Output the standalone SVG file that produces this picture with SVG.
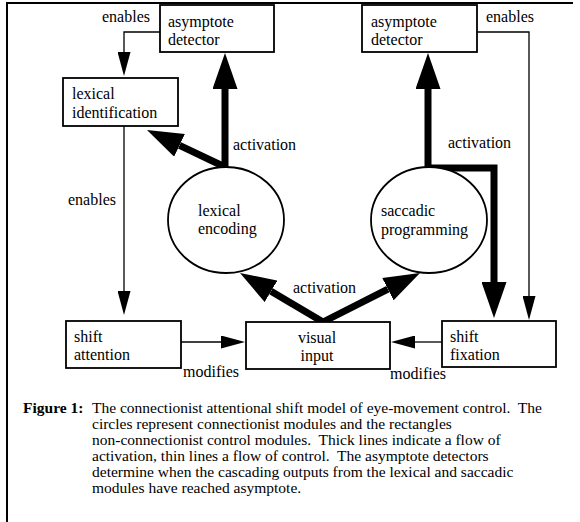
<svg xmlns="http://www.w3.org/2000/svg" width="580" height="522" viewBox="0 0 580 522" font-family="'Liberation Serif', 'Times New Roman', 'DejaVu Serif', serif">
<style>
text{font-family:'Liberation Serif','Times New Roman','DejaVu Serif',serif;font-size:16px;fill:#000}
.cap{font-size:15.5px;white-space:pre}
.b{font-weight:bold}
.box{fill:#fff;stroke:#000;stroke-width:1.8}
.thin{fill:none;stroke:#000;stroke-width:1.3}
.thick{fill:none;stroke:#000;stroke-width:7;stroke-linejoin:miter}
</style>
<defs>
<marker id="ah" markerUnits="userSpaceOnUse" viewBox="0 0 36 25" markerWidth="36" markerHeight="25" refX="0" refY="12.5" orient="auto">
<path d="M0,0 L36,12.5 L0,25 z" fill="#000"/>
</marker>
<marker id="at" markerUnits="userSpaceOnUse" viewBox="0 0 24 13" markerWidth="24" markerHeight="13" refX="0" refY="6.5" orient="auto">
<path d="M0,0 L24,6.5 L0,13 z" fill="#000"/>
</marker>
</defs>
<rect width="580" height="522" fill="#fff"/>
<path d="M7,522 V3 H573" fill="none" stroke="#000" stroke-width="2"/>

<g id="connectors">
<path class="thin" d="M274,32 H124 V52" marker-end="url(#at)"/>
<path class="thin" d="M477,32 H529 V296" marker-end="url(#at)"/>
<path class="thin" d="M124,126 V291" marker-end="url(#at)"/>
<path class="thin" d="M181,342 H221" marker-end="url(#at)"/>
<path class="thin" d="M442,342 H415" marker-end="url(#at)"/>
<path class="thick" d="M225,170 V89" marker-end="url(#ah)"/>
<path class="thick" d="M225,167 L179.5,145.4" marker-end="url(#ah)"/>
<path class="thick" d="M428,170 V89" marker-end="url(#ah)"/>
<path class="thick" d="M428,168 H494 V282" marker-end="url(#ah)"/>
<path class="thick" d="M323,322 L271,291.3" marker-end="url(#ah)"/>
<path class="thick" d="M323,322 L387.9,289.2" marker-end="url(#ah)"/>
<text x="102" y="22">enables</text>
<text x="486" y="22">enables</text>
<text x="68" y="205">enables</text>
<text x="233" y="150">activation</text>
<text x="448" y="148">activation</text>
<text x="293" y="293">activation</text>
<text x="183" y="377">modifies</text>
<text x="390" y="379">modifies</text>
</g>

<g id="asymptote-left">
<rect class="box" x="160" y="5" width="114" height="47"/>
<text x="168" y="27">asymptote</text>
<text x="168" y="45">detector</text>
</g>
<g id="asymptote-right">
<rect class="box" x="362" y="5" width="115" height="47"/>
<text x="371" y="27">asymptote</text>
<text x="371" y="45">detector</text>
</g>
<g id="lexical-identification">
<rect class="box" x="63" y="78" width="115" height="48"/>
<text x="72" y="99">lexical</text>
<text x="72" y="118">identification</text>
</g>
<g id="lexical-encoding">
<ellipse cx="226" cy="220" rx="58" ry="53" fill="#fff" stroke="#000" stroke-width="1.8"/>
<text x="198" y="216">lexical</text>
<text x="198" y="234">encoding</text>
</g>
<g id="saccadic-programming">
<ellipse cx="429" cy="220" rx="58" ry="53" fill="#fff" stroke="#000" stroke-width="1.8"/>
<text x="381" y="216">saccadic</text>
<text x="381" y="235">programming</text>
</g>
<g id="shift-attention">
<rect class="box" x="66" y="321" width="115" height="47"/>
<text x="74" y="342">shift</text>
<text x="74" y="360">attention</text>
</g>
<g id="visual-input">
<rect class="box" x="246" y="322" width="144" height="47"/>
<text x="317" y="343" text-anchor="middle">visual</text>
<text x="317" y="361" text-anchor="middle">input</text>
</g>
<g id="shift-fixation">
<rect class="box" x="442" y="321" width="114" height="46"/>
<text x="450" y="342">shift</text>
<text x="450" y="360">fixation</text>
</g>

<g id="caption">
<text class="cap b" x="23" y="413">Figure 1:</text>
<text class="cap" x="92" y="413" xml:space="preserve">The connectionist attentional shift model of eye-movement control.  The</text>
<text class="cap" x="92" y="429">circles represent connectionist modules and the rectangles</text>
<text class="cap" x="92" y="445" xml:space="preserve">non-connectionist control modules.  Thick lines indicate a flow of</text>
<text class="cap" x="92" y="461" xml:space="preserve">activation, thin lines a flow of control.  The asymptote detectors</text>
<text class="cap" x="92" y="477">determine when the cascading outputs from the lexical and saccadic</text>
<text class="cap" x="92" y="493">modules have reached asymptote.</text>
</g>
</svg>
